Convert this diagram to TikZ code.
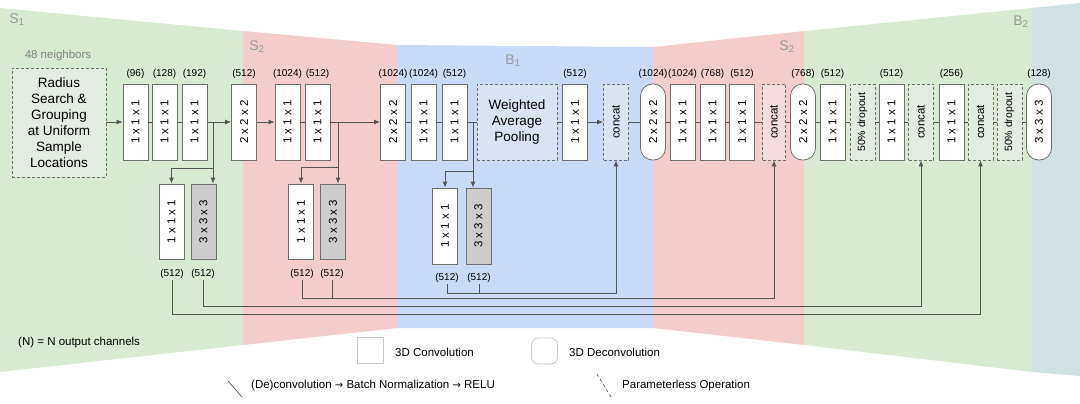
\documentclass[tikz,border=0pt]{standalone}
\usepackage{fontspec}
\setmainfont{Liberation Sans}
\newfontfamily\dejavu{DejaVu Sans}
\usetikzlibrary{arrows.meta,calc}
\definecolor{bggreen}{HTML}{D9EAD3}
\definecolor{bgred}{HTML}{F4CCCC}
\definecolor{bgblue}{HTML}{C9DAF8}
\definecolor{bgcyan}{HTML}{D0E0E3}
\definecolor{boxline}{HTML}{707070}
\definecolor{linecol}{HTML}{555555}
\definecolor{convgray}{HTML}{CCCCCC}
\definecolor{seccol}{HTML}{9A9A9A}
\definecolor{legline}{HTML}{C8C8C8}
\tikzset{
 box/.style={draw=boxline, line width=0.8pt, fill=white, minimum width=25pt, minimum height=76pt, inner sep=0pt, font=\fontsize{11.5}{12}\selectfont},
 gbox/.style={box, fill=convgray},
 dbox/.style={box, rounded corners=12pt},
 pbox/.style={box, dashed, dash pattern=on 3pt off 2pt, fill=gray!12, fill opacity=0.45, text opacity=1},
 chan/.style={font=\fontsize{10}{12}\selectfont, inner sep=1.5pt},
 link/.style={draw=linecol, line width=0.8pt},
 arr/.style={link, -{Latex[length=6pt,width=5pt]}},
 sec/.style={text=seccol, font=\fontsize{14}{14}\selectfont, inner sep=0pt},
 legend/.style={font=\fontsize{11.5}{14}\selectfont, inner sep=0pt, anchor=west},
 legbox/.style={draw=legline, line width=0.8pt, fill=white, minimum size=26pt, inner sep=0pt},
}
\begin{document}
\begin{tikzpicture}[x=1pt,y=-1pt]
\useasboundingbox (0,0) rectangle (1080,404);
% backgrounds
\fill[bggreen] (0,8) -- (243,31) -- (243,345) -- (0,372) -- cycle;
\fill[bgred] (243,31) -- (397,45) -- (397,328) -- (243,345) -- cycle;
\fill[bgblue] (397,45) -- (653,47) -- (653,328) -- (397,328) -- cycle;
\fill[bgred] (653,47) -- (804,31) -- (804,345) -- (653,328) -- cycle;
\fill[bggreen] (804,31) -- (1032,8) -- (1032,372) -- (804,345) -- cycle;
\fill[bgcyan] (1032,8) -- (1080,3) -- (1080,376) -- (1032,372) -- cycle;
% section labels
\node[sec] (sec1) at (17,20) {S\textsubscript{1}};
\node[sec] (sec2) at (257,47) {S\textsubscript{2}};
\node[sec] (sec3) at (513,61) {B\textsubscript{1}};
\node[sec] (sec4) at (787,47) {S\textsubscript{2}};
\node[sec] (sec5) at (1021,22) {B\textsubscript{2}};
% input
\node[text=seccol!85!black, font=\fontsize{11.5}{14}\selectfont] (nb) at (58,56) {48 neighbors};
\node[pbox, minimum width=94pt, minimum height=109pt, align=center, font=\fontsize{13.5}{16}\selectfont] (rs) at (59,122.5) {Radius\\Search \&\\Grouping\\at Uniform\\Sample\\Locations};
% main row
\node[box] (c1) at (135.5,122) {\rotatebox{90}{1 x 1 x 1}};
\node[box] (c2) at (164.5,122) {\rotatebox{90}{1 x 1 x 1}};
\node[box] (c3) at (194.5,122) {\rotatebox{90}{1 x 1 x 1}};
\node[box] (c4) at (244,122) {\rotatebox{90}{2 x 2 x 2}};
\node[box] (c5) at (287.5,122) {\rotatebox{90}{1 x 1 x 1}};
\node[box] (c6) at (317.5,122) {\rotatebox{90}{1 x 1 x 1}};
\node[box] (c7) at (393,122) {\rotatebox{90}{2 x 2 x 2}};
\node[box] (c8) at (423.5,122) {\rotatebox{90}{1 x 1 x 1}};
\node[box] (c9) at (454.5,122) {\rotatebox{90}{1 x 1 x 1}};
\node[pbox, minimum width=80pt, align=center, font=\fontsize{13.5}{16}\selectfont] (wap) at (517,122) {Weighted\\Average\\Pooling};
\node[box] (c10) at (575,122) {\rotatebox{90}{1 x 1 x 1}};
\node[pbox] (cat1) at (616,122) {\rotatebox{90}{concat}};
\node[dbox] (d1) at (653,122) {\rotatebox{90}{2 x 2 x 2}};
\node[box] (c11) at (682.5,122) {\rotatebox{90}{1 x 1 x 1}};
\node[box] (c12) at (712.5,122) {\rotatebox{90}{1 x 1 x 1}};
\node[box] (c13) at (742,122) {\rotatebox{90}{1 x 1 x 1}};
\node[pbox, minimum width=23pt] (cat2) at (774,122) {\rotatebox{90}{concat}};
\node[dbox] (d2) at (803,122) {\rotatebox{90}{2 x 2 x 2}};
\node[box] (c14) at (832.5,122) {\rotatebox{90}{1 x 1 x 1}};
\node[pbox, font=\fontsize{10.5}{12}\selectfont] (do1) at (862.5,122) {\rotatebox{90}{50\% dropout}};
\node[box] (c15) at (891.5,122) {\rotatebox{90}{1 x 1 x 1}};
\node[pbox] (cat3) at (921,122) {\rotatebox{90}{concat}};
\node[box] (c16) at (951.5,122) {\rotatebox{90}{1 x 1 x 1}};
\node[pbox] (cat4) at (980.5,122) {\rotatebox{90}{concat}};
\node[pbox, font=\fontsize{10.5}{12}\selectfont] (do2) at (1009.5,122) {\rotatebox{90}{50\% dropout}};
\node[dbox] (d3) at (1039,122) {\rotatebox{90}{3 x 3 x 3}};
% channel labels
\foreach \x/\t [count=\i] in {135.5/(96),164.5/(128),194.5/(192),244/(512),287.5/(1024),317.5/(512),393/(1024),423.5/(1024),454.5/(512),575/(512),653/(1024),682.5/(1024),712.5/(768),742/(512),803/(768),832.5/(512),891.5/(512),951.5/(256),1039/(128)}
  \node[chan] (ch\i) at (\x,74) {\t};
% side boxes
\node[box, minimum height=75pt] (s1a) at (171.5,221.5) {\rotatebox{90}{1 x 1 x 1}};
\node[gbox, minimum height=75pt] (s1b) at (203.5,221.5) {\rotatebox{90}{3 x 3 x 3}};
\node[box, minimum height=75pt] (s2a) at (301,221.5) {\rotatebox{90}{1 x 1 x 1}};
\node[gbox, minimum height=75pt] (s2b) at (333,221.5) {\rotatebox{90}{3 x 3 x 3}};
\node[box, minimum height=76pt] (s3a) at (445,226) {\rotatebox{90}{1 x 1 x 1}};
\node[gbox, minimum height=76pt] (s3b) at (478.5,226) {\rotatebox{90}{3 x 3 x 3}};
\node[chan] (l1a) at (172,274) {(512)};
\node[chan] (l1b) at (203,274) {(512)};
\node[chan] (l2a) at (302,274) {(512)};
\node[chan] (l2b) at (332,274) {(512)};
\node[chan] (l3a) at (447,278) {(512)};
\node[chan] (l3b) at (479,278) {(512)};
% main row connectors
\draw[arr] (rs.east |- c1) -- (c1.west);
\draw[link] (c1) -- (c2);
\draw[link] (c2) -- (c3);
\draw[arr] (c3) -- (c4);
\draw[arr] (c4) -- (c5);
\draw[link] (c5) -- (c6);
\draw[arr] (c6) -- (c7);
\draw[link] (c7) -- (c8);
\draw[link] (c8) -- (c9);
\draw[link] (c9) -- (wap);
\draw[link] (wap) -- (c10);
\draw[arr] (c10) -- (cat1);
\draw[link] (cat1) -- (d1);
\draw[link] (d1) -- (c11);
\draw[link] (c11) -- (c12);
\draw[link] (c12) -- (c13);
\draw[link] (c13) -- (cat2);
\draw[link] (cat2) -- (d2);
\draw[link] (d2) -- (c14);
\draw[link] (c14) -- (do1);
\draw[link] (do1) -- (c15);
\draw[link] (c15) -- (cat3);
\draw[link] (cat3) -- (c16);
\draw[link] (c16) -- (cat4);
\draw[link] (cat4) -- (do2);
\draw[link] (do2) -- (d3);
% branches
\coordinate (j1) at (213,122);
\coordinate (j2) at (338,122);
\coordinate (j3) at (473,122);
\draw[arr] (j1) -- (j1 |- s1b.north);
\draw[arr] (213,168) -| (s1a.north);
\draw[arr] (j2) -- (j2 |- s2b.north);
\draw[arr] (338,167) -| (s2a.north);
\draw[arr] (j3) -- (j3 |- s3b.north);
\draw[arr] (473,171) -| (s3a.north);
% skip connections
\draw[arr] (l3a.south) |- (cat1.south |- 0,293) -- (cat1.south);
\draw[link] (l3b.south) -- (l3b.south |- 0,293);
\draw[arr] (l2a.south) |- (cat2.south |- 0,298) -- (cat2.south);
\draw[link] (l2b.south) -- (l2b.south |- 0,298);
\draw[arr] (l1b.south) |- (cat3.south |- 0,306) -- (cat3.south);
\draw[arr] (l1a.south) |- (cat4.south |- 0,314) -- (cat4.south);
% legend
\node[legend] (nl) at (18,343) {(N) = N output channels};
\node[legbox] (lg1) at (370.5,350) {};
\node[legend] (lt1) at (395,352) {3D Convolution};
\node[legbox, rounded corners=7pt] (lg2) at (544.5,351) {};
\node[legend] (lt2) at (569,352) {3D Deconvolution};
\draw[link, line width=0.7pt] (228,381) -- (242,397);
\node[legend] (lt3) at (251,386) {(De)convolution {\dejavu\fontsize{10}{12}\selectfont →} Batch Normalization {\dejavu\fontsize{10}{12}\selectfont →} RELU};
\draw[link, line width=0.7pt, dashed] (597,374) -- (611,397);
\node[legend] (lt4) at (622,386) {Parameterless Operation};
\end{tikzpicture}
\end{document}
